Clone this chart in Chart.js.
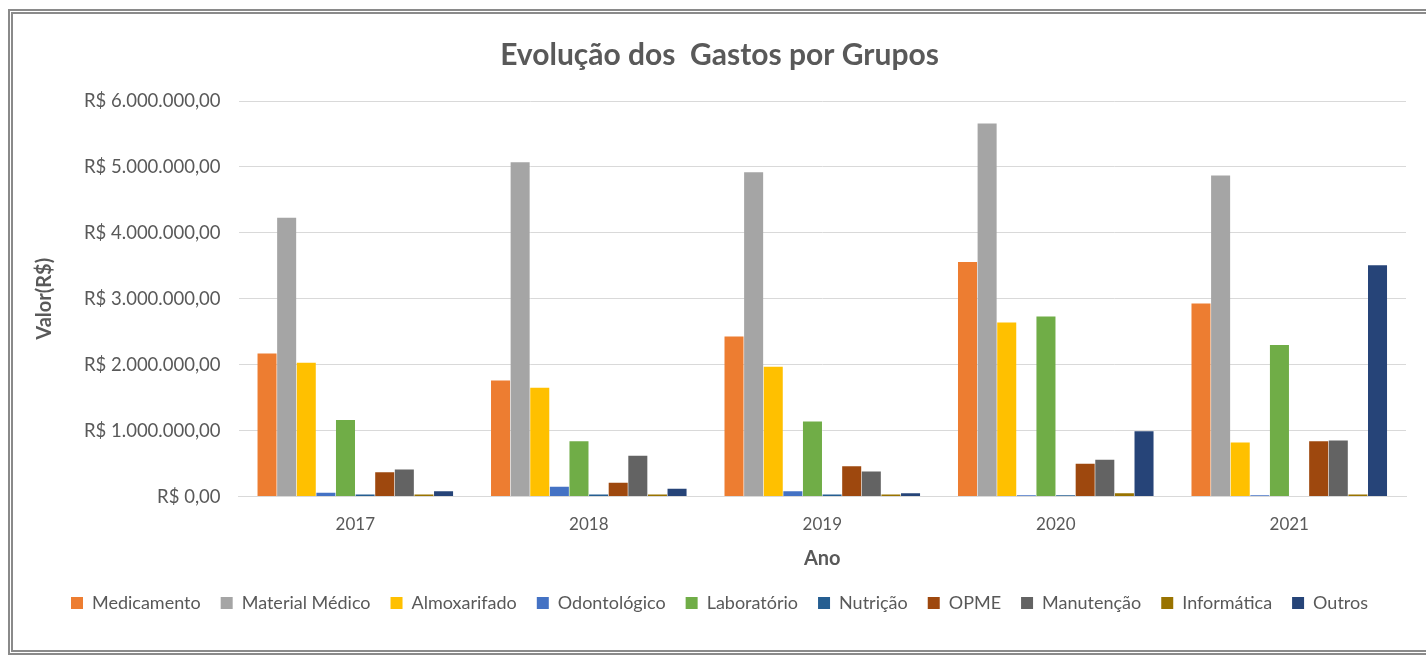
<!DOCTYPE html>
<html>
<head>
<meta charset="utf-8">
<script src="https://cdn.jsdelivr.net/npm/chart.js@4"></script>
<style>
  html, body { margin: 0; background: #fff; overflow: hidden; }
  #frame { position: absolute; left: 8px; top: 9px; width: 1460px; height: 636px; border: 5px double #8a8a8a; }
  #wrap { position: absolute; left: 0; top: 0; width: 1426px; height: 655px; }
</style>
</head>
<body>
<div id="frame"></div>
<div id="wrap"><canvas id="bar-chart"></canvas></div>
<script>
// data (R$)
var anos = ['2017', '2018', '2019', '2020', '2021'];
var grupos = ['Medicamento', 'Material Médico', 'Almoxarifado', 'Odontológico', 'Laboratório', 'Nutrição', 'OPME', 'Manutenção', 'Informática', 'Outros'];
var medicamento    = [2170000, 1760000, 2430000, 3560000, 2930000];
var materialMedico = [4230000, 5070000, 4920000, 5660000, 4870000];
var almoxarifado   = [2030000, 1650000, 1970000, 2640000, 820000];
var odontologico   = [60000, 150000, 80000, 20000, 20000];
var laboratorio    = [1160000, 840000, 1140000, 2730000, 2300000];
var nutricao       = [30000, 30000, 30000, 20000, 0];
var opme           = [370000, 210000, 460000, 500000, 840000];
var manutencao     = [410000, 620000, 380000, 560000, 850000];
var informatica    = [30000, 30000, 30000, 50000, 30000];
var outros         = [80000, 120000, 50000, 990000, 3510000];
var cores = ['#ed7d31', '#a5a5a5', '#ffc000', '#4472c4', '#70ad47', '#255e91', '#9e480e', '#636363', '#997300', '#264478'];
var yTickLabels = ['R$ 0,00', 'R$ 1.000.000,00', 'R$ 2.000.000,00', 'R$ 3.000.000,00', 'R$ 4.000.000,00', 'R$ 5.000.000,00', 'R$ 6.000.000,00'];

var series = [medicamento, materialMedico, almoxarifado, odontologico, laboratorio, nutricao, opme, manutencao, informatica, outros];
var txt = '#595959';
var fonte = 'Lato, "Open Sans", sans-serif';

window.onload = function(){
    new Chart(document.getElementById("bar-chart"), {
        type: 'bar',
        data: {
            labels: anos,
            datasets: series.map(function(s, i){
                return {
                    label: grupos[i],
                    data: s,
                    backgroundColor: cores[i],
                    borderWidth: 0,
                    categoryPercentage: 0.84,
                    barPercentage: 0.97
                };
            })
        },
        options: {
            responsive: true,
            maintainAspectRatio: false,
            animation: false,
            layout: { padding: { left: 33, right: 20, top: 37, bottom: 33 } },
            plugins: {
                title: {
                    display: true,
                    text: 'Evolução dos  Gastos por Grupos',
                    color: txt,
                    font: { family: fonte, size: 30, weight: 'bold' },
                    padding: { top: 0, bottom: 28 }
                },
                legend: {
                    position: 'bottom',
                    labels: {
                        color: txt,
                        font: { family: fonte, size: 18 },
                        boxWidth: 12,
                        boxHeight: 12,
                        padding: 20
                    }
                },
                tooltip: { enabled: false }
            },
            scales: {
                x: {
                    grid: { display: false },
                    border: { color: '#d9d9d9' },
                    ticks: { color: txt, font: { family: fonte, size: 17 }, padding: 10 },
                    title: { display: true, text: 'Ano', color: txt, font: { family: fonte, size: 20, weight: 'bold' }, padding: { top: 2, bottom: 3 } }
                },
                y: {
                    min: 0,
                    max: 6000000,
                    border: { display: false },
                    grid: { color: '#d9d9d9', drawTicks: false },
                    ticks: {
                        stepSize: 1000000,
                        color: txt,
                        font: { family: fonte, size: 18.5 },
                        padding: 18,
                        callback: function(v){ return yTickLabels[Math.round(v / 1000000)]; }
                    },
                    title: { display: true, text: 'Valor(R$)', color: txt, font: { family: fonte, size: 20, weight: 'bold' }, padding: { top: 0, bottom: 9 } }
                }
            }
        }
    });
};
</script>
</body>
</html>
